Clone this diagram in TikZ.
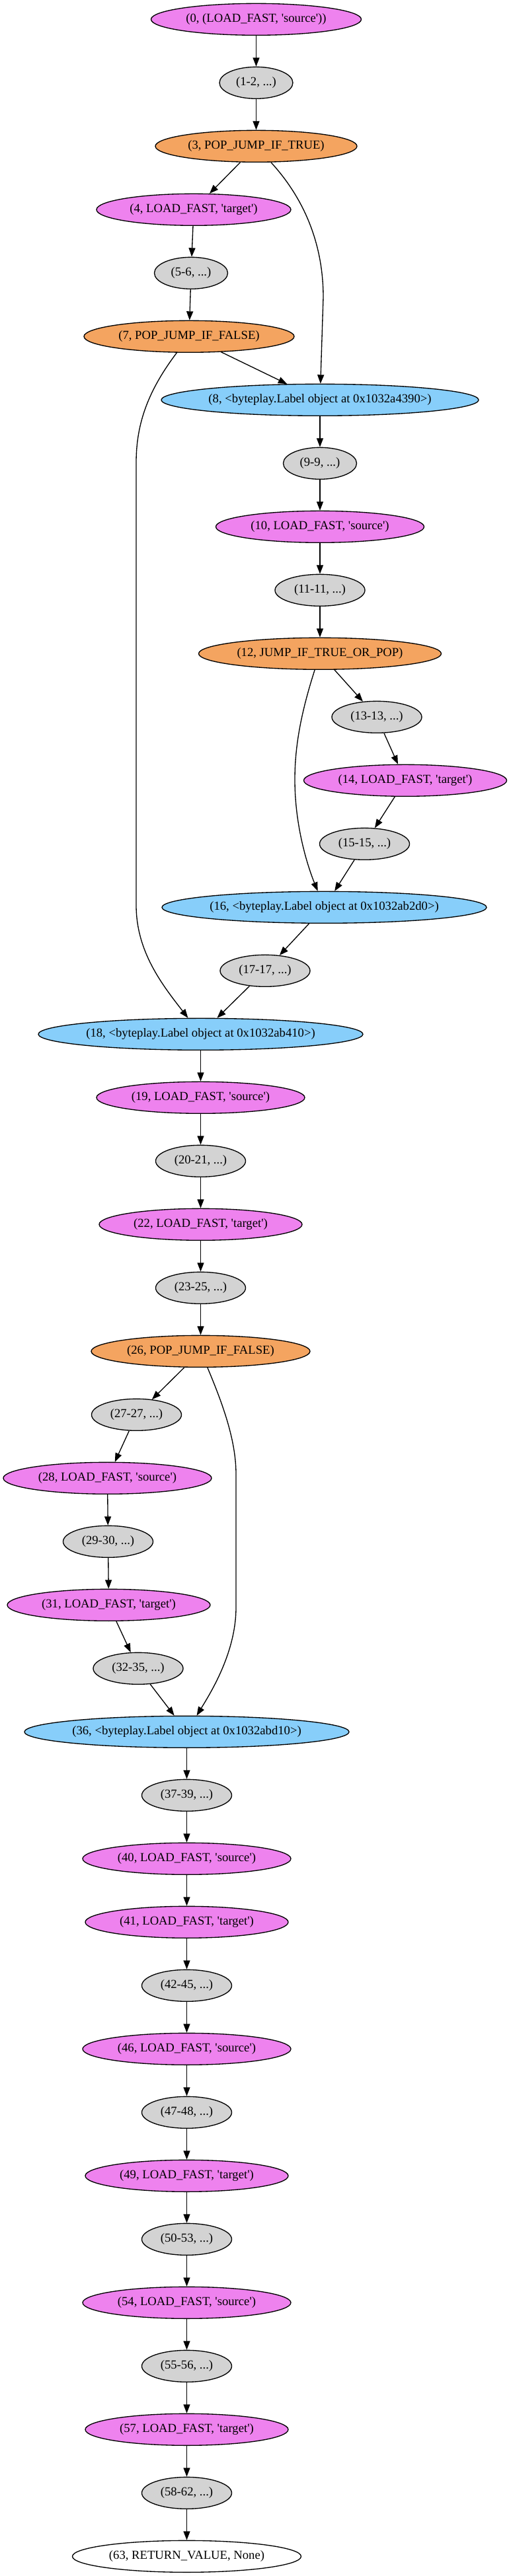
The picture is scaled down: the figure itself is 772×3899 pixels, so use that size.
\documentclass[tikz,border=0pt]{standalone}
\usepackage{fontspec}
\newfontfamily\gvfont{Liberation Serif}
\usetikzlibrary{shapes.geometric,arrows.meta}
\newcommand\gvq{\textquotesingle}
\definecolor{gvviolet}{HTML}{EE82EE}
\definecolor{gvsandy}{HTML}{F4A460}
\definecolor{gvsky}{HTML}{87CEFA}
\definecolor{gvlgray}{HTML}{D3D3D3}
\tikzset{
  gvbase/.style={ellipse, draw=black, line width=1pt, inner sep=0pt,
    minimum height=36pt, minimum width=#1,
    font=\gvfont\fontsize{14pt}{16pt}\selectfont},
  vnode/.style={gvbase=#1, fill=gvviolet},
  gnode/.style={gvbase=#1, fill=gvlgray},
  onode/.style={gvbase=#1, fill=gvsandy},
  bnode/.style={gvbase=#1, fill=gvsky},
  wnode/.style={gvbase=#1, fill=white},
  edge/.style={draw=black, line width=1pt, -{Triangle[length=10pt,width=7.5pt]}}
}
\newcommand\tx[1]{\makebox[0pt]{#1}}
\begin{document}
\begin{tikzpicture}[x=0.75pt,y=-0.75pt]
\fill[white] (0,0) rectangle (772,3899);
\useasboundingbox (0,0) rectangle (772,3899);

\node[vnode=238.5pt]  (n0)  at (387.5,29.3)  {\tx{(0, (LOAD\_FAST, \gvq source\gvq))}};
\node[gnode=83.25pt]  (n1)  at (387.5,125.3) {\tx{(1-2, ...)}};
\node[onode=228.75pt] (n3)  at (387.5,221.3) {\tx{(3, POP\_JUMP\_IF\_TRUE)}};
\node[vnode=220.5pt]  (n4)  at (293,317.3)   {\tx{(4, LOAD\_FAST, \gvq target\gvq)}};
\node[gnode=83.25pt]  (n5)  at (289,413.3)   {\tx{(5-6, ...)}};
\node[onode=238.5pt]  (n7)  at (286,509.3)   {\tx{(7, POP\_JUMP\_IF\_FALSE)}};
\node[bnode=360pt]    (n8)  at (484,605.3)   {\tx{(8, <byteplay.Label object at 0x1032a4390>)}};
\node[gnode=83.25pt]  (n9)  at (484,701.3)   {\tx{(9-9, ...)}};
\node[vnode=236.25pt] (n10) at (484,797.3)   {\tx{(10, LOAD\_FAST, \gvq source\gvq)}};
\node[gnode=102pt]    (n11) at (484,893.3)   {\tx{(11-11, ...)}};
\node[onode=275.25pt] (n12) at (484,989.3)   {\tx{(12, JUMP\_IF\_TRUE\_OR\_POP)}};
\node[gnode=102pt]    (n13) at (570,1085.3)  {\tx{(13-13, ...)}};
\node[vnode=230.25pt] (n14) at (613,1181.3)  {\tx{(14, LOAD\_FAST, \gvq target\gvq)}};
\node[gnode=102pt]    (n15) at (551.5,1277.3) {\tx{(15-15, ...)}};
\node[bnode=368.25pt] (n16) at (490.5,1373.3) {\tx{(16, <byteplay.Label object at 0x1032ab2d0>)}};
\node[gnode=102pt]    (n17) at (401,1469.3)  {\tx{(17-17, ...)}};
\node[bnode=368.25pt] (n18) at (303.5,1565.3) {\tx{(18, <byteplay.Label object at 0x1032ab410>)}};
\node[vnode=236.25pt] (n19) at (303.5,1661.3) {\tx{(19, LOAD\_FAST, \gvq source\gvq)}};
\node[gnode=102pt]    (n20) at (303.5,1757.3) {\tx{(20-21, ...)}};
\node[vnode=230.25pt] (n22) at (303.5,1853.3) {\tx{(22, LOAD\_FAST, \gvq target\gvq)}};
\node[gnode=102pt]    (n23) at (303.5,1949.3) {\tx{(23-25, ...)}};
\node[onode=248.25pt] (n26) at (303.5,2045.3) {\tx{(26, POP\_JUMP\_IF\_FALSE)}};
\node[gnode=102pt]    (n27) at (206.5,2141.3) {\tx{(27-27, ...)}};
\node[vnode=236.25pt] (n28) at (162.5,2237.3) {\tx{(28, LOAD\_FAST, \gvq source\gvq)}};
\node[gnode=102pt]    (n29) at (163.5,2333.3) {\tx{(29-30, ...)}};
\node[vnode=230.25pt] (n31) at (164.5,2429.3) {\tx{(31, LOAD\_FAST, \gvq target\gvq)}};
\node[gnode=102pt]    (n32) at (209,2525.3)  {\tx{(32-35, ...)}};
\node[bnode=368.25pt] (n36) at (282.5,2621.3) {\tx{(36, <byteplay.Label object at 0x1032abd10>)}};
\node[gnode=102pt]    (n37) at (282.5,2717.3) {\tx{(37-39, ...)}};
\node[vnode=236.25pt] (n40) at (282.5,2813.3) {\tx{(40, LOAD\_FAST, \gvq source\gvq)}};
\node[vnode=230.25pt] (n41) at (282.5,2909.3) {\tx{(41, LOAD\_FAST, \gvq target\gvq)}};
\node[gnode=102pt]    (n42) at (282.5,3005.3) {\tx{(42-45, ...)}};
\node[vnode=236.25pt] (n46) at (282.5,3101.3) {\tx{(46, LOAD\_FAST, \gvq source\gvq)}};
\node[gnode=102pt]    (n47) at (282.5,3197.3) {\tx{(47-48, ...)}};
\node[vnode=230.25pt] (n49) at (282.5,3293.3) {\tx{(49, LOAD\_FAST, \gvq target\gvq)}};
\node[gnode=102pt]    (n50) at (282.5,3389.3) {\tx{(50-53, ...)}};
\node[vnode=236.25pt] (n54) at (282.5,3485.3) {\tx{(54, LOAD\_FAST, \gvq source\gvq)}};
\node[gnode=102pt]    (n55) at (282.5,3581.3) {\tx{(55-56, ...)}};
\node[vnode=230.25pt] (n57) at (282.5,3677.3) {\tx{(57, LOAD\_FAST, \gvq target\gvq)}};
\node[gnode=102pt]    (n58) at (282.5,3773.3) {\tx{(58-62, ...)}};
\node[wnode=259.5pt]  (n63) at (282.5,3869.3) {\tx{(63, RETURN\_VALUE, None)}};

% straight edges
\foreach \a/\b in {n0/n1,n1/n3,n3/n4,n4/n5,n5/n7,n7/n8,n8/n9,n9/n10,n10/n11,n11/n12,
  n12/n13,n13/n14,n14/n15,n15/n16,n16/n17,n17/n18,n18/n19,n19/n20,n20/n22,n22/n23,
  n23/n26,n26/n27,n27/n28,n28/n29,n29/n31,n31/n32,n32/n36,n36/n37,n37/n40,n40/n41,
  n41/n42,n42/n46,n46/n47,n47/n49,n49/n50,n50/n54,n54/n55,n55/n57,n57/n58,n58/n63}
  \draw[edge] (\a) -- (\b);

% curved edges
\coordinate (c38a) at (489,450);
\draw[edge] (n3) .. controls (478,320) and (489,400) .. (c38a) -- (n8);
\coordinate (c718a) at (206,700);
\coordinate (c718b) at (206,1370);
\draw[edge] (n7) .. controls (225,590) and (206,640) .. (c718a) -- (c718b)
  .. controls (206,1440) and (245,1490) .. (n18);
\coordinate (c1216) at (446,1180);
\draw[edge] (n12) .. controls (455,1080) and (446,1130) .. (c1216)
  .. controls (446,1250) and (465,1310) .. (n16);
\coordinate (c2636a) at (357,2231);
\coordinate (c2636b) at (357,2433);
\draw[edge] (n26) .. controls (337,2125) and (357,2180) .. (c2636a) -- (c2636b)
  .. controls (357,2500) and (320,2560) .. (n36);
\end{tikzpicture}
\end{document}
